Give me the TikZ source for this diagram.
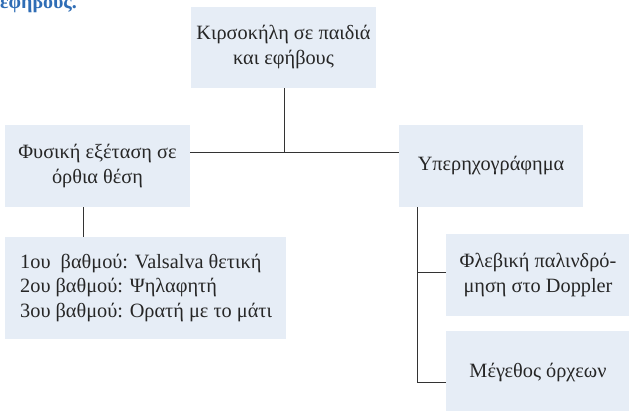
\documentclass[tikz,border=0pt]{standalone}
\usepackage{fontspec}
\setmainfont{Liberation Serif}
\newfontfamily\serifgr{Liberation Serif}[Script=Greek]
\definecolor{boxfill}{HTML}{E6EDF6}
\definecolor{linec}{HTML}{333333}
\definecolor{txt}{HTML}{262626}
\definecolor{heading}{HTML}{2F6DB5}
\begin{document}
\begin{tikzpicture}[x=1pt,y=-1pt,
  boxshape/.style={rectangle, fill=boxfill, inner sep=0pt, align=center, text=txt,
    font=\serifgr\fontsize{20.3}{25}\selectfont},
  conn/.style={draw=linec, line width=0.9pt}]
\useasboundingbox (0,0) rectangle (629,410);
\node[anchor=base west, inner sep=0pt, text=heading, font=\serifgr\bfseries\fontsize{20}{24}\selectfont] (H) at (0,8) {εφήβους.};
\node[boxshape, minimum width=185pt, minimum height=81pt] (T) at (283.5,47.5) {Κιρσοκήλη σε παιδιά\\και εφήβους};
\node[boxshape, minimum width=185pt, minimum height=82pt] (L) at (97.5,166) {Φυσική εξέταση σε\\όρθια θέση};
\node[boxshape, minimum width=184pt, minimum height=82pt] (R) at (491,166) {Υπερηχογράφημα};
\node[boxshape, minimum width=281pt, minimum height=102pt] (G) at (145.5,288) {};
\node[anchor=west, inner sep=0pt, align=left, text=txt, font=\serifgr\fontsize{20.3}{24.2}\selectfont] (Gt) at (20,288) {1ου~ βαθμού: Valsalva θετική\\2ου βαθμού: Ψηλαφητή\\3ου βαθμού: Ορατή με το μάτι};
\node[boxshape, minimum width=184pt, minimum height=82pt] (F) at (538,275) {Φλεβική παλινδρό-\\μηση στο Doppler};
\node[boxshape, minimum width=184pt, minimum height=82pt] (M) at (538,372) {Μέγεθος όρχεων};
\coordinate (J) at (284,152);
\draw[conn] (T.south -| J) -- (J);
\draw[conn] (L.east |- J) -- (R.west |- J);
\coordinate (Lb) at ([xshift=-14.5pt]L.south);
\draw[conn] (Lb) -- (Lb |- G.north);
\coordinate (Rb) at ([xshift=-74pt]R.south);
\coordinate (Fj) at ([yshift=3pt]F.west);
\coordinate (Mj) at ([yshift=-10pt]M.west);
\draw[conn] (Rb) -- (Rb |- Mj) -- (Mj);
\draw[conn] (Rb |- Fj) -- (Fj);
\end{tikzpicture}
\end{document}
